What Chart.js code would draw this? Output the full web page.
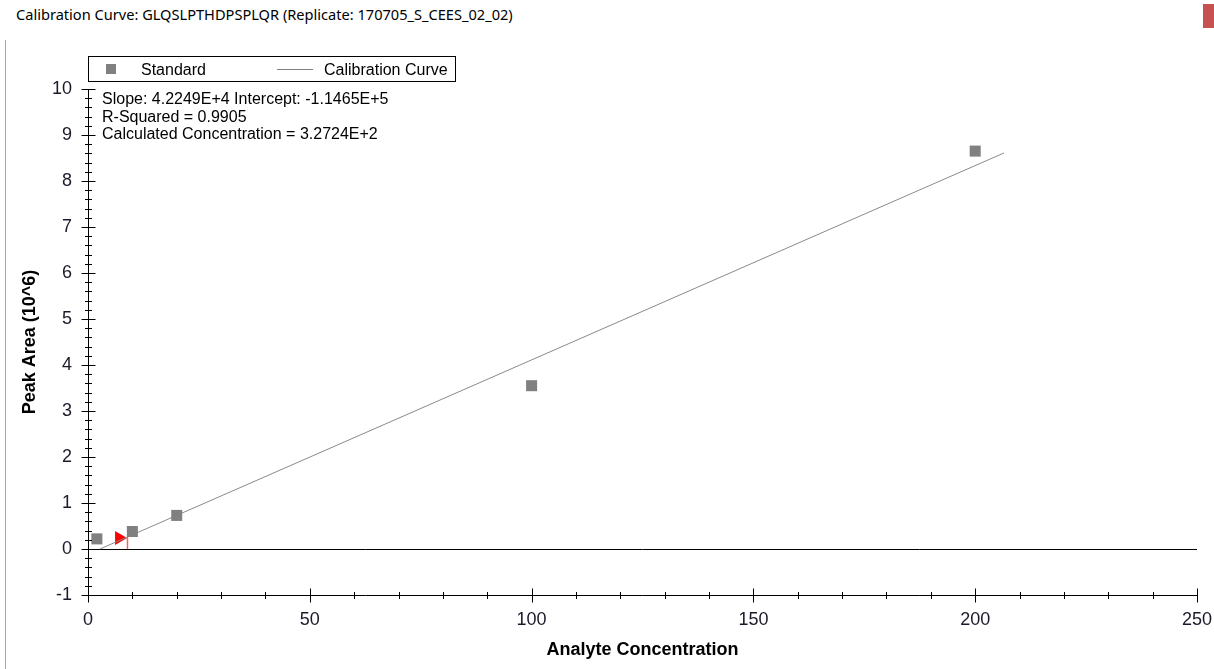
<!DOCTYPE html>
<html lang="en">
<head>
<meta charset="utf-8">
<title>Calibration Curve</title>
<script src="https://cdn.jsdelivr.net/npm/chart.js@4.4.1/dist/chart.umd.min.js"></script>
<style>
    html, body { margin: 0; padding: 0; background: #fff; }
    body { width: 1214px; height: 669px; position: relative; overflow: hidden;
           font-family: "Liberation Sans", Arial, sans-serif; }
    #windowTitle { position: absolute; left: 16px; top: 4px; font-family: "Noto Sans", "Open Sans", sans-serif;
                   font-size: 14.6px; color: #000; white-space: nowrap; }
    #closeBtn { position: absolute; left: 1203px; top: 4px; width: 11px; height: 24px; background: #c75050; }
    #leftEdge { position: absolute; left: 5px; top: 40px; width: 1px; height: 629px; background: #a8a8a8; }
    #chartWrap { position: absolute; left: 0; top: 0; width: 1214px; height: 669px; }
    #legendBox { position: absolute; left: 88px; top: 56px; width: 366px; height: 24px;
                 border: 1px solid #000; background: #fff; font-size: 16px; color: #000; }
    #legendBox .sq { position: absolute; left: 17px; top: 7px; width: 10px; height: 10px; background: #808080; }
    #legendBox .ln { position: absolute; left: 188px; top: 12px; width: 36px; height: 1px; background: #808080; }
    #legendBox .lbl { position: absolute; top: 4px; white-space: nowrap; line-height: 18px; }
    #stats { position: absolute; left: 102px; top: 90px; font-size: 16px; line-height: 17.5px; color: #000; white-space: nowrap; }
</style>
</head>
<body>
<div id="windowTitle">Calibration Curve: GLQSLPTHDPSPLQR (Replicate: 170705_S_CEES_02_02)</div>
<div id="closeBtn"></div>
<div id="leftEdge"></div>
<div id="chartWrap"><canvas id="calibrationChart" width="1214" height="669"></canvas></div>
<div id="legendBox"></div>
<div id="stats">
    <div>Slope: 4.2249E+4 Intercept: -1.1465E+5</div>
    <div>R-Squared = 0.9905</div>
    <div>Calculated Concentration = 3.2724E+2</div>
</div>
<script>
// standard points (concentration, peak area in 10^6)
const standardX = [2, 10, 20, 100, 200];
const standardY = [0.22, 0.38, 0.73, 3.55, 8.65];

// calibration line end points
const curveX = [2.7, 206.5];
const curveY = [0, 8.61];

// red marker for the calculated sample
const markerX = [8.9, 8.9];
const markerY = [0, 0.26];
const flagX = [7.0];
const flagY = [0.24];

// axis tick labels
const xTicks = [0, 50, 100, 150, 200, 250];
const yTicks = [-1, 0, 1, 2, 3, 4, 5, 6, 7, 8, 9, 10];

const toPoints = (xs, ys) => xs.map((x, i) => ({ x: x, y: ys[i] }));

// axis lines, zero line and crossing tick marks (major + minor)
const axisDecor = {
    id: 'axisDecor',
    beforeDatasetsDraw(chart) {
        const { ctx, chartArea, scales } = chart;
        const y0 = Math.round(scales.y.getPixelForValue(0)) + 0.5;
        ctx.save();
        ctx.strokeStyle = '#000';
        ctx.lineWidth = 1;
        ctx.beginPath();
        ctx.moveTo(chartArea.left, y0);
        ctx.lineTo(chartArea.right, y0);
        ctx.stroke();
        ctx.restore();
    },
    afterDraw(chart) {
        const { ctx, chartArea, scales } = chart;
        const xs = scales.x, ys = scales.y;
        const ax = Math.round(chartArea.left) + 0.5;
        const ay = Math.round(chartArea.bottom) + 0.5;
        ctx.save();
        ctx.strokeStyle = '#000';
        ctx.lineWidth = 1;
        ctx.beginPath();
        ctx.moveTo(ax, chartArea.top);
        ctx.lineTo(ax, ay);
        ctx.lineTo(chartArea.right, ay);
        // y ticks every 0.2, major every 1
        for (let i = ys.min * 5; i <= ys.max * 5; i++) {
            const p = Math.round(ys.getPixelForValue(i / 5)) + 0.5;
            const len = (i % 5 === 0) ? 7 : 3.5;
            ctx.moveTo(ax - len, p);
            ctx.lineTo(ax + len, p);
        }
        // x ticks every 10, major every 50
        for (let v = xs.min; v <= xs.max; v += 10) {
            const p = Math.round(xs.getPixelForValue(v)) + 0.5;
            const len = (v % 50 === 0) ? 7 : 3.5;
            ctx.moveTo(p, ay - len);
            ctx.lineTo(p, ay + len);
        }
        ctx.stroke();
        ctx.restore();
    }
};

document.addEventListener('DOMContentLoaded', () => {
    if (typeof Chart === 'undefined') {
        console.error('Chart.js not loaded');
        return;
    }
    Chart.defaults.font.family = "'Liberation Sans', Arial, sans-serif";

    const chart = new Chart(document.getElementById('calibrationChart'), {
        type: 'scatter',
        data: {
            datasets: [
                {
                    label: 'Standard',
                    data: toPoints(standardX, standardY),
                    pointStyle: 'rect',
                    pointRadius: 7.8,
                    backgroundColor: '#808080',
                    borderWidth: 0
                },
                {
                    label: 'Calibration Curve',
                    type: 'line',
                    data: toPoints(curveX, curveY),
                    borderColor: '#8a8a8a',
                    borderWidth: 1,
                    pointRadius: 0,
                    fill: false
                },
                {
                    label: 'marker',
                    type: 'line',
                    data: toPoints(markerX, markerY),
                    borderColor: '#ff6060',
                    borderWidth: 1.5,
                    pointRadius: 0
                },
                {
                    label: 'flag',
                    data: toPoints(flagX, flagY),
                    pointStyle: 'triangle',
                    rotation: 90,
                    pointRadius: 8,
                    backgroundColor: '#ff0000',
                    borderWidth: 0
                }
            ]
        },
        options: {
            responsive: false,
            animation: false,
            layout: { padding: { left: 0, top: 89, right: 17, bottom: 0 } },
            plugins: {
                legend: { display: false },
                tooltip: { enabled: false }
            },
            scales: {
                x: {
                    type: 'linear',
                    min: 0,
                    max: 250,
                    afterBuildTicks: s => { s.ticks = xTicks.map(v => ({ value: v })); },
                    // fixed axis height; drop the label overhang so the plot reaches x=1197
                    afterFit: s => { s.height = 74; s.paddingRight = 0; },
                    grid: { display: false, drawTicks: false },
                    border: { display: false },
                    ticks: { font: { size: 18 }, color: '#1a1a2a', padding: 14 },
                    title: {
                        display: true,
                        text: 'Analyte Concentration',
                        color: '#000',
                        font: { size: 18, weight: 'bold' },
                        padding: { top: 0, bottom: 8 }
                    }
                },
                y: {
                    type: 'linear',
                    min: -1,
                    max: 10,
                    afterBuildTicks: s => { s.ticks = yTicks.map(v => ({ value: v })); },
                    afterFit: s => { s.width = 88; },
                    grid: { display: false, drawTicks: false },
                    border: { display: false },
                    ticks: { font: { size: 18 }, color: '#1a1a2a', padding: 16 },
                    title: {
                        display: true,
                        text: 'Peak Area (10^6)',
                        color: '#000',
                        font: { size: 18, weight: 'bold' },
                        padding: { top: 19, bottom: 0 }
                    }
                }
            }
        },
        plugins: [axisDecor]
    });

    // html legend built from the two visible datasets
    const legendBox = document.getElementById('legendBox');
    const labels = chart.data.datasets.slice(0, 2).map(d => d.label);
    legendBox.innerHTML =
        '<span class="sq"></span><span class="lbl" style="left:52px">' + labels[0] + '</span>' +
        '<span class="ln"></span><span class="lbl" style="left:235px">' + labels[1] + '</span>';
});
</script>
</body>
</html>
